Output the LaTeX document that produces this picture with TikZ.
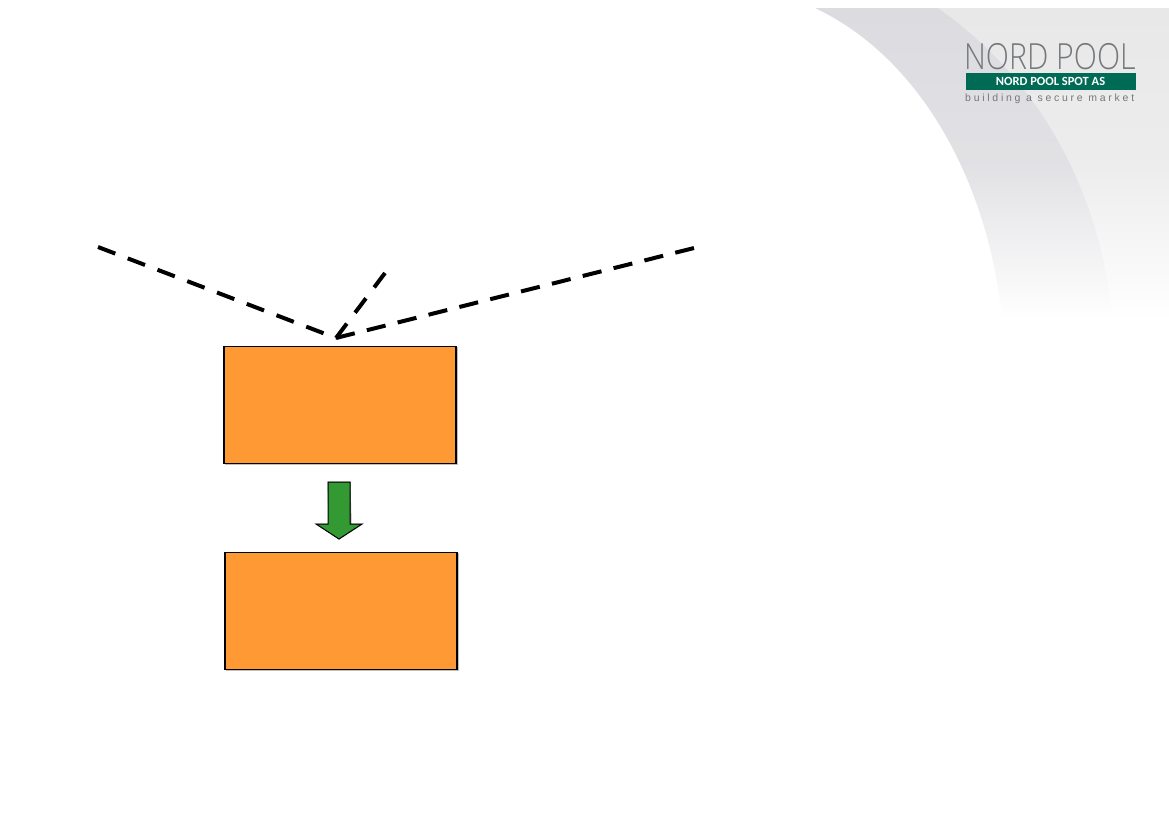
\documentclass[tikz,border=0pt]{standalone}
\usepackage{fontspec}
\setmainfont{Liberation Sans}
\newfontfamily\thinfont{Open Sans Light}
\newfontfamily\barfont{Carlito}
\usetikzlibrary{arrows.meta,calc}
\definecolor{boxorange}{HTML}{FF9933}
\definecolor{arrowgreen}{HTML}{339933}
\definecolor{npgreen}{HTML}{006B54}
\definecolor{bandA}{HTML}{DCDCE0}
\definecolor{bandB}{HTML}{E8E8E9}
\definecolor{logogray}{HTML}{74787A}
\tikzset{
  x=1pt,y=-1pt,
  procbox/.style={draw=black,line width=1.2pt,fill=boxorange,minimum width=232pt,minimum height=117pt,inner sep=0pt,outer sep=0pt},
  boxshadow/.style={draw=none,fill=black!25,minimum width=233pt,minimum height=118pt,inner sep=0pt,outer sep=0pt},
  feed/.style={line width=4pt,draw=black},
  flowarrow/.style={draw=black,line width=1pt,fill=arrowgreen,line join=miter},
}
\begin{document}
\begin{tikzpicture}
\useasboundingbox (0,0) rectangle (1169,827);
% swoosh background
\shade[top color=bandB,bottom color=white,middle color=bandB!80!white]
  (938,8) .. controls (1040,80) and (1100,190) .. (1113,320) -- (1169,320) -- (1169,8) -- cycle;
\shade[top color=bandA,bottom color=white,middle color=bandA!85!white]
  (815,8) .. controls (925,60) and (990,190) .. (1002,320) -- (1113,320)
  .. controls (1100,190) and (1040,80) .. (938,8) -- cycle;
% logo
\node[anchor=west,inner sep=0pt,text=logogray,xscale=0.84,font=\thinfont\fontsize{36}{36}\selectfont] (logoname) at (964,57) {NORD POOL};
\node[fill=npgreen,text=white,inner sep=0pt,minimum width=170pt,minimum height=17pt,font=\barfont\bfseries\fontsize{12.5}{13}\selectfont] (logobar) at (1050.5,81.5) {NORD POOL SPOT AS};
\node[anchor=west,inner sep=0pt,text=logogray,font=\fontsize{10.5}{10.5}\selectfont] (logotag) at (965,99) {\addfontfeature{LetterSpace=26}building a secure market};
% boxes
\node[boxshadow] at (341,406) {};
\node[boxshadow] at (342,612) {};
\node[procbox] (top) at (340,405) {};
\node[procbox] (bottom) at (341,611) {};
% dashed connectors
\coordinate (meet) at (336,338);
\coordinate (srcA) at (98,247);
\coordinate (srcB) at (385,273);
\coordinate (srcC) at (694,248);
\draw[feed,dash pattern=on 18.5pt off 13.35pt] (srcA) -- (meet);
\draw[feed,dash pattern=on 18pt off 13.7pt] (meet) -- (srcB);
\draw[feed,dash pattern=on 19.3pt off 12.5pt] (meet) -- (srcC);
% block arrow
\coordinate (arrowtop) at (339,482);
\coordinate (arrowtip) at (339,539);
\draw[flowarrow,draw=black!50,fill=black!50,xshift=1pt]
  ($(arrowtop)+(-11,0)$) -- ($(arrowtop)+(11,0)$) -- (350,524) -- (361,524) -- (arrowtip) -- (316,524) -- (328,524) -- cycle;
\draw[flowarrow]
  ($(arrowtop)+(-11,0)$) -- ($(arrowtop)+(11,0)$) -- (350,524) -- (362,524) -- (arrowtip) -- (316,524) -- (328,524) -- cycle;
\end{tikzpicture}
\end{document}
